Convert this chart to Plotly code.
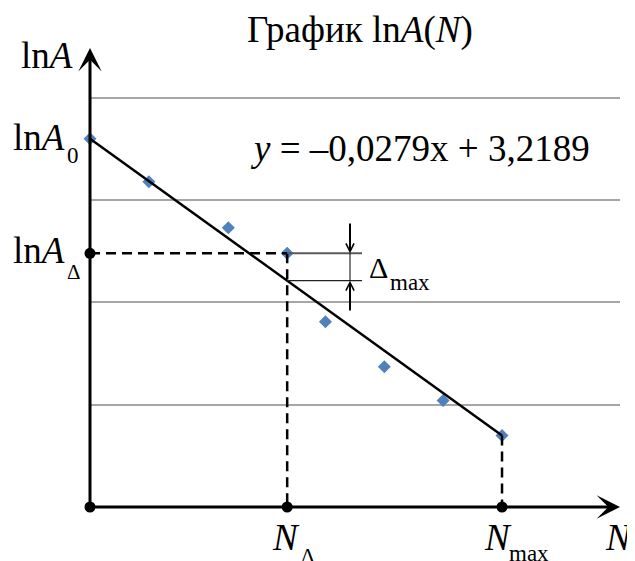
import numpy as np
import plotly.graph_objects as go

# точки эксперимента (условные единицы схемы)
N = [0, 1, 2.35, 3.35, 4, 5, 6, 7]
lnA = [3.60, 3.18, 2.73, 2.48, 1.81, 1.37, 1.04, 0.70]

# линия тренда
fit_N = [0, 7]
fit_lnA = [3.60, 0.70]

grid_vals = [1, 2, 3, 4]

title = 'График ln<i>A</i>(<i>N</i>)'
equation = '<i>y</i> = –0,0279x + 3,2189'

i_delta = 3
N_d, lnA_d = N[i_delta], lnA[i_delta]
N_max, lnA_end = N[-1], lnA[-1]
lnA_fit_d = float(np.interp(N_d, fit_N, fit_lnA))

FONT = 'Liberation Serif'
OFF = 8                    # отступ body страницы
W, H = 635 - OFF, 561 - OFF
X0, Y0 = 90, 507           # начало координат (пиксели экрана)
XR, YT = 620, 40           # правый и верхний край области графика
SX, SY = 58.86, 102.3      # пикселей на единицу
PW, PH = XR - X0, Y0 - YT


def px(p):
    return (p - X0) / SX


def py(p):
    return (Y0 - p) / SY


fig = go.Figure()

# точки
fig.add_trace(go.Scatter(
    x=N, y=lnA, mode='markers',
    marker=dict(symbol='diamond', size=10, color='#4f81bd'),
    cliponaxis=False, showlegend=False
))

# линия тренда
fig.add_trace(go.Scatter(
    x=fit_N, y=fit_lnA, mode='lines',
    line=dict(color='black', width=2.5),
    showlegend=False
))

# пунктиры
dash = dict(color='black', width=2.5, dash='10px,6px')
fig.add_trace(go.Scatter(x=[0, N_d], y=[lnA_d, lnA_d], mode='lines',
                         line=dash, showlegend=False, cliponaxis=False))
fig.add_trace(go.Scatter(x=[N_d, N_d], y=[lnA_d, 0], mode='lines',
                         line=dash, showlegend=False, cliponaxis=False))
fig.add_trace(go.Scatter(x=[N_max, N_max], y=[lnA_end, 0], mode='lines',
                         line=dash, showlegend=False, cliponaxis=False))

# Δmax: горизонтальные выноски
bx, bx_end = px(350), px(362)
fig.add_trace(go.Scatter(x=[N_d, bx_end], y=[lnA_d, lnA_d], mode='lines',
                         line=dict(color='#595959', width=2), showlegend=False))
fig.add_trace(go.Scatter(x=[N_d, bx_end], y=[lnA_fit_d, lnA_fit_d], mode='lines',
                         line=dict(color='#222222', width=1.2), showlegend=False))
fig.add_trace(go.Scatter(x=[bx, bx], y=[lnA_d, lnA_fit_d], mode='lines',
                         line=dict(color='black', width=1), showlegend=False))

# чёрные точки на осях
fig.add_trace(go.Scatter(
    x=[0, N_d, N_max, 0], y=[0, 0, 0, lnA_d], mode='markers',
    marker=dict(size=11, color='black'), cliponaxis=False, showlegend=False
))

annotations = []
# оси со стрелками
annotations.append(dict(x=0, y=py(48), ax=0, ay=0, axref='x', ayref='y',
                        xref='x', yref='y', text='', showarrow=True,
                        arrowhead=3, arrowsize=1.3, arrowwidth=3, arrowcolor='black'))
annotations.append(dict(x=px(XR), y=0, ax=0, ay=0, axref='x', ayref='y',
                        xref='x', yref='y', text='', showarrow=True,
                        arrowhead=3, arrowsize=1.3, arrowwidth=3, arrowcolor='black'))
# стрелки Δmax
annotations.append(dict(x=bx, y=lnA_d, ax=bx, ay=py(222), axref='x', ayref='y',
                        xref='x', yref='y', text='', showarrow=True,
                        arrowhead=5, arrowsize=0.8, arrowwidth=2, arrowcolor='black'))
annotations.append(dict(x=bx, y=lnA_fit_d, ax=bx, ay=py(312), axref='x', ayref='y',
                        xref='x', yref='y', text='', showarrow=True,
                        arrowhead=5, arrowsize=0.8, arrowwidth=2, arrowcolor='black'))


def label(text, x, y, size=37, xanchor='center', yanchor='middle'):
    # x, y — пиксели экрана
    annotations.append(dict(x=(x - X0) / PW, y=(Y0 - y) / PH,
                            xref='paper', yref='paper', text=text,
                            showarrow=False, xanchor=xanchor, yanchor=yanchor,
                            borderpad=0,
                            font=dict(family=FONT, size=size, color='black')))


label(title, 360, 30)
label(equation, 420, 148)
label('ln<i>A</i>', 47, 55)

label('ln<i>A</i>', 66, 137, xanchor='right')
label('0', 66, 155, size=23, xanchor='left')
label('ln<i>A</i>', 66, 251, xanchor='right')
label('Δ', 66, 272, size=21, xanchor='left')

label('Δ', 389, 267, size=30, xanchor='right')
label('max', 389, 282, size=23, xanchor='left')

label('<i>N</i>', 301, 537, xanchor='right')
label('Δ', 300, 556, size=21, xanchor='left')
label('<i>N</i>', 513, 537, xanchor='right')
label('max', 508, 553, size=23, xanchor='left')
label('<i>N</i>', 604, 537, xanchor='left')

fig.update_layout(
    width=W, height=H,
    margin=dict(l=X0 - OFF, r=W - (XR - OFF), t=YT - OFF, b=H - (Y0 - OFF)),
    plot_bgcolor='white', paper_bgcolor='white',
    annotations=annotations,
    xaxis=dict(range=[0, px(XR)], showgrid=False, zeroline=False,
               showticklabels=False, ticks='', showline=False),
    yaxis=dict(range=[0, py(YT)], tickvals=grid_vals, showgrid=True,
               gridcolor='#a6a6a6', gridwidth=2, zeroline=False,
               showticklabels=False, ticks='', showline=False),
)

fig.write_html("out.html")
